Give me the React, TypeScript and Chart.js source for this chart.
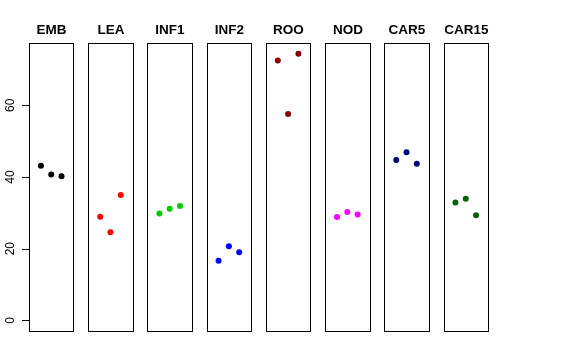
import React, { useEffect, useRef } from "react";
import { Chart, registerables } from "chart.js";

Chart.register(...registerables);

const categories = ["EMB", "LEA", "INF1", "INF2", "ROO", "NOD", "CAR5", "CAR15"];
const rep1 = [43.1, 28.9, 29.8, 16.6, 72.5, 28.8, 44.7, 32.9];
const rep2 = [40.7, 24.6, 31.1, 20.7, 57.6, 30.2, 46.9, 33.9];
const rep3 = [40.2, 35.0, 31.9, 19.0, 74.4, 29.5, 43.7, 29.3];
const colors = ["#000000", "#FF0000", "#00CD00", "#0000FF", "#8B0000", "#FF00FF", "#000080", "#006400"];
const yTicks = [0, 20, 40, 60];

const PANEL_STEP = 5.75; // x units between panel starts
const X_LO = -0.16; // per-panel x range (0..4 with 4% padding)
const X_HI = 4.16;
const Y_MIN = -2.98;
const Y_MAX = 77.38;

const panelPlugin = {
  id: "panels",
  afterDatasetsDraw(chart: any) {
    const ctx = chart.ctx;
    const xs = chart.scales.x;
    const ys = chart.scales.y;
    const top = ys.getPixelForValue(Y_MAX);
    const bottom = ys.getPixelForValue(Y_MIN);
    ctx.save();
    ctx.strokeStyle = "#000";
    ctx.lineWidth = 1;
    ctx.fillStyle = "#000";
    ctx.font = "bold 13.5px 'Liberation Sans', Arial, sans-serif";
    ctx.textAlign = "center";
    ctx.textBaseline = "middle";
    categories.forEach((name, i) => {
      const l = Math.round(xs.getPixelForValue(i * PANEL_STEP + X_LO)) + 0.5;
      const r = Math.round(xs.getPixelForValue(i * PANEL_STEP + X_HI)) + 0.5;
      const t = Math.round(top) + 0.5;
      const b = Math.round(bottom) + 0.5;
      ctx.strokeRect(l, t, r - l, b - t);
      ctx.fillText(name, (l + r) / 2, 30);
    });
    // y axis
    const axisX = Math.round(xs.getPixelForValue(X_LO)) + 0.5;
    ctx.font = "12px 'Liberation Sans', Arial, sans-serif";
    const tks = ys.ticks.map((t: any) => t.value);
    ctx.beginPath();
    ctx.moveTo(axisX, Math.round(ys.getPixelForValue(tks[0])) + 0.5);
    ctx.lineTo(axisX, Math.round(ys.getPixelForValue(tks[tks.length - 1])) + 0.5);
    ctx.stroke();
    tks.forEach((v: number) => {
      const py = Math.round(ys.getPixelForValue(v)) + 0.5;
      ctx.beginPath();
      ctx.moveTo(axisX - 7.5, py);
      ctx.lineTo(axisX, py);
      ctx.stroke();
      ctx.save();
      ctx.translate(11, ys.getPixelForValue(v));
      ctx.rotate(-Math.PI / 2);
      ctx.textAlign = "center";
      ctx.textBaseline = "middle";
      ctx.fillText(String(v), 0, 0);
      ctx.restore();
    });
    ctx.restore();
  },
};

export default function App() {
  const ref = useRef<HTMLCanvasElement>(null);
  useEffect(() => {
    if (!ref.current) return;
    const datasets = categories.map((name, i) => ({
      label: name,
      data: [rep1[i], rep2[i], rep3[i]].map((v, j) => ({ x: i * PANEL_STEP + j + 1, y: v })),
      backgroundColor: colors[i],
      borderColor: colors[i],
      pointRadius: 3,
      pointBorderWidth: 0,
      showLine: false,
    }));
    const chart = new Chart(ref.current, {
      type: "scatter",
      data: { datasets },
      options: {
        animation: false,
        responsive: false,
        devicePixelRatio: 1,
        layout: { padding: { left: 29, right: 88, top: 43, bottom: 29 } },
        plugins: { legend: { display: false }, tooltip: { enabled: false }, title: { display: false } },
        scales: {
          x: {
            type: "linear",
            display: false,
            min: X_LO,
            max: 7 * PANEL_STEP + X_HI,
          },
          y: {
            type: "linear",
            display: false,
            min: Y_MIN,
            max: Y_MAX,
            afterBuildTicks: (scale: any) => {
              scale.ticks = yTicks.map((v) => ({ value: v }));
            },
          },
        },
      },
      plugins: [panelPlugin],
    });
    return () => chart.destroy();
  }, []);
  return (
    <div style={{ position: "fixed", left: 0, top: 0, width: 576, height: 360, background: "#fff" }}>
      <canvas ref={ref} width={576} height={360} style={{ width: 576, height: 360 }} />
    </div>
  );
}
